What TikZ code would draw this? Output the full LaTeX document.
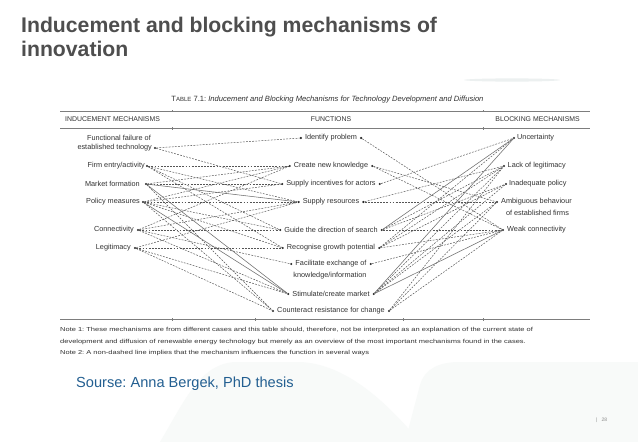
\documentclass[tikz,border=0pt]{standalone}
\usepackage{fontspec}
\setmainfont{Liberation Sans}
\usepackage{graphicx}
\usetikzlibrary{positioning}
\frenchspacing
\definecolor{titlegray}{RGB}{78,78,78}
\definecolor{tabtext}{RGB}{50,50,50}
\definecolor{lnc}{RGB}{85,85,85}
\definecolor{rulec}{RGB}{125,125,125}
\definecolor{srcblue}{RGB}{35,95,145}
\definecolor{bgf}{RGB}{248,250,249}
\definecolor{swoosh}{RGB}{236,240,240}
\newcommand\tabfont{\fontsize{7.3}{8.5}\selectfont}
\newcommand\hdrfont{\fontsize{6.9}{8}\selectfont}
\newcommand\capfont{\fontsize{7.6}{9}\selectfont}
\newcommand\capsmall{\fontsize{6}{7}\selectfont}
\newcommand\notefont{\fontsize{5.8}{6.5}\selectfont}
\newcommand\notebox[1]{\scalebox{1.29}[1]{#1}}
\begin{document}
\begin{tikzpicture}[x=1pt,y=-1pt,
  dot/.style={circle, fill=black!85, inner sep=0pt, minimum size=2.3pt},
  tx/.style={font=\tabfont, text=tabtext, inner sep=0pt},
  hdr/.style={font=\hdrfont, text=tabtext, inner sep=0pt},
  ttl/.style={font=\fontsize{21.2}{25}\selectfont\bfseries, text=titlegray, inner sep=0pt},
  note/.style={font=\notefont, text=tabtext, inner sep=0pt},
  dl/.style={draw=lnc, line width=0.5pt, dash pattern=on 1.8pt off 1.3pt},
  sl/.style={draw=lnc!85, line width=0.55pt},
  rl/.style={draw=rulec, line width=0.9pt}]
\useasboundingbox (0,0) rectangle (638,442);
\fill[white] (0,0) rectangle (638,442);
% faint background shapes
\fill[bgf] (160,442) .. controls (185,400) and (200,364) .. (235,362) -- (300,362) .. controls (345,364) and (385,400) .. (420,442) -- cycle;
\fill[bgf] (405,442) -- (420,385) .. controls (425,368) and (440,362) .. (460,362) -- (638,362) -- (638,442) -- cycle;
\fill[swoosh] (512,80) ellipse (48pt and 1.6pt);
% title
\node[ttl, anchor=base west] (t1) at (21,32) {Inducement and blocking mechanisms of};
\node[ttl, anchor=base west] (t2) at (21,56) {innovation};
% caption and rules
\node[font=\capfont, text=tabtext, inner sep=0pt] (cap) at (327.5,100) {T{\capsmall ABLE} 7.1: \textit{Inducement and Blocking Mechanisms for Technology Development and Diffusion}};
\draw[rl] (60,111) -- (590,111);
\draw[rl] (60,128) -- (590,128);
\draw[rl] (60,319) -- (590,319);
\foreach \x in {172,483} {\draw[rulec, line width=0.5pt] (\x,127) -- (\x,130); \draw[rulec, line width=0.5pt] (\x,110) -- (\x,112);}
\foreach \x in {172,255,403,483} {\draw[rulec, line width=0.5pt] (\x,318) -- (\x,321);}
\node[hdr, anchor=west] (h1) at (65,119.5) {INDUCEMENT MECHANISMS};
\node[hdr] (h2) at (331,119.5) {FUNCTIONS};
\node[hdr, anchor=east] (h3) at (580,119.5) {BLOCKING MECHANISMS};
% left column
\node[dot] (ff) at (155,148) {};
\node[dot] (fe) at (147,166) {};
\node[dot] (mf) at (146,184) {};
\node[dot] (pm) at (143,202) {};
\node[dot] (co) at (138,230) {};
\node[dot] (lg) at (135,248) {};
\node[tx, anchor=east] (tff1) at (151,138) {Functional failure of};
\node[tx, anchor=east] (tff2) at (152,148) {established technology};
\node[tx, anchor=east] (tfe) at (145,166) {Firm entry/activity};
\node[tx, anchor=east] (tmf) at (140,184) {Market formation};
\node[tx, anchor=east] (tpm) at (140,202) {Policy measures};
\node[tx, anchor=east] (tco) at (134,230) {Connectivity};
\node[tx, anchor=east] (tlg) at (131,248) {Legitimacy};
% functions
\node[tx] (fid) at (331,138) {Identify problem};
\node[tx] (fkn) at (331,166) {Create new knowledge};
\node[tx] (fin) at (331,184) {Supply incentives for actors};
\node[tx] (fre) at (331,202) {Supply resources};
\node[tx] (fgu) at (331,230) {Guide the direction of search};
\node[tx] (frg) at (331,248) {Recognise growth potential};
\node[tx] (ffa) at (331,264) {Facilitate exchange of};
\node[tx] (ffa2) at (330,276) {knowledge/information};
\node[tx] (fst) at (331,294) {Stimulate/create market};
\node[tx] (fcn) at (331,311) {Counteract resistance for change};
\foreach \f/\n in {fid/id, fkn/kn, fin/in, fre/re, fgu/gu, frg/rg, ffa/fa, fst/st, fcn/cn} {
  \node[dot, left=2.6pt of \f] (\n L) {};
  \node[dot, right=2.6pt of \f] (\n R) {};
}
% right column
\node[dot] (un) at (514,138) {};
\node[dot] (la) at (504,166) {};
\node[dot] (ia) at (506,184) {};
\node[dot] (am) at (497,202) {};
\node[dot] (wc) at (503,230) {};
\node[tx, anchor=west] (tun) at (517,138) {Uncertainty};
\node[tx, anchor=west] (tla) at (507.5,166) {Lack of legitimacy};
\node[tx, anchor=west] (tia) at (509,184) {Inadequate policy};
\node[tx, anchor=west] (tam1) at (501,202) {Ambiguous behaviour};
\node[tx] (tam2) at (537.5,213) {of established firms};
\node[tx, anchor=west] (twc) at (507,230) {Weak connectivity};
% connectors: inducement -> functions
\foreach \a/\b in {ff/idL, ff/inL, fe/knL, fe/reL, fe/guL, fe/rgL, mf/inL, mf/knL, mf/cnL,
  pm/knL, pm/inL, pm/reL, pm/guL, pm/rgL, pm/cnL, co/reL, co/knL, co/faL, co/guL, co/stL,
  lg/rgL, lg/cnL, lg/reL, lg/stL}
  \draw[dl] (\a) -- (\b);
\foreach \a/\b in {mf/reL, mf/stL, pm/stL}
  \draw[sl] (\a) -- (\b);
% connectors: functions -> blocking
\foreach \a/\b in {idR/wc, knR/am, knR/wc, inR/un, reR/am, reR/la, guR/wc, guR/la, guR/ia,
  rgR/un, rgR/la, rgR/ia, rgR/wc, faR/wc, stR/la, stR/ia, stR/am, cnR/wc, cnR/la, cnR/am}
  \draw[dl] (\a) -- (\b);
\foreach \a/\b in {guR/un, stR/un, stR/wc}
  \draw[sl] (\a) -- (\b);
% notes
\node[note, anchor=west] (n1) at (60,330) {\notebox{Note 1: These mechanisms are from different cases and this table should, therefore, not be interpreted as an explanation of the current state of}};
\node[note, anchor=west] (n2) at (60,341.5) {\notebox{development and diffusion of renewable energy technology but merely as an overview of the most important mechanisms found in the cases.}};
\node[note, anchor=west] (n3) at (60,353) {\notebox{Note 2: A non-dashed line implies that the mechanism influences the function in several ways}};
% source and page number
\node[font=\fontsize{14.6}{17}\selectfont, text=srcblue, anchor=base west, inner sep=0pt] (src) at (76,387) {Sourse: Anna Bergek, PhD thesis};
\node[font=\fontsize{5}{6}\selectfont, text=black!45, anchor=base west, inner sep=0pt] (pg) at (596,421) {|\hspace{4pt}28};
\end{tikzpicture}
\end{document}
